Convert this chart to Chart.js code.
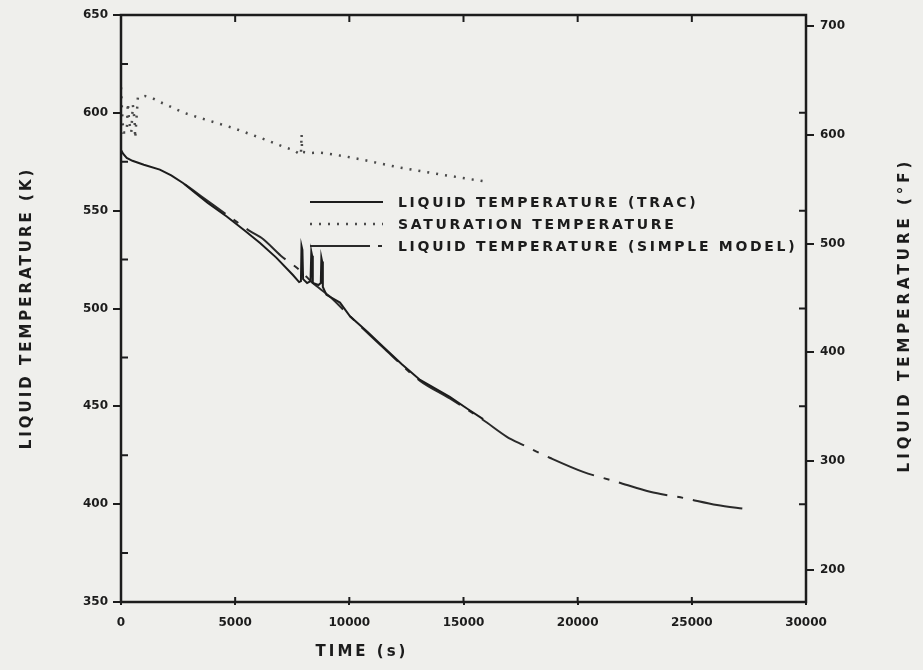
<!DOCTYPE html>
<html>
<head>
<meta charset="utf-8">
<script src="https://cdn.jsdelivr.net/npm/chart.js@4.4.0/dist/chart.umd.min.js"></script>
<style>
    html, body { margin: 0; padding: 0; background: #efefec; }
    #wrap { width: 923px; height: 670px; position: relative; }
</style>
</head>
<body>
<div id="wrap"><canvas id="chart"></canvas></div>
<script>
// Liquid temperature computed by TRAC (K)
const tracTime = [0, 100, 250, 500, 1000, 1700, 2200, 2730, 3200, 3800, 4630, 5400, 6090, 6800, 7540, 7800,
    7880, 7905, 7945, 7975, 8150, 8300, 8335, 8370, 8400, 8650, 8750, 8775, 8810, 8840, 9000, 9155, 9590,
    10030, 10800, 11480, 12300, 13100, 14400, 15200, 15860];
const tracTemp = [581, 579, 577, 575.5, 573.5, 571, 568, 564, 559.5, 554, 547, 540, 533.5, 526, 517, 513.5,
    514, 532, 530, 515, 513, 514, 529, 527, 513, 512, 513, 526, 524, 511, 507, 506, 503,
    496, 488, 480.5, 471.5, 463.5, 454.8, 448.5, 443.5];

// Saturation temperature (K)
const satTime = [0, 50, 100, 250, 300, 330, 360, 450, 520, 560, 600, 620, 740, 1050, 1360, 1710, 2010, 2370,
    2760, 3460, 4900, 6390, 7100, 7550, 7880, 7910, 7930, 8280, 8720, 9150, 9880, 10600, 11640, 12220,
    14000, 15900];
const satTemp = [613, 600, 590, 590, 605, 600, 595, 590, 604, 600, 595, 587, 608, 608.6, 607.6, 605.5, 604, 602,
    600, 597.4, 592.3, 586, 582.7, 581, 578.5, 589, 580, 579.5, 579.6, 579, 577.6, 576, 573.4, 572,
    568.5, 565];

// Liquid temperature from the simple model (K)
const simpleTime = [2800, 3500, 4630, 5100, 5650, 6220, 7000, 7840, 8400, 9155, 10030, 11480, 13100, 14400,
    15860, 16900, 17600, 18800, 20240, 21720, 23170, 24620, 26100, 27330];
const simpleTemp = [563.5, 557.5, 548, 544, 539.5, 535.5, 527, 519.5, 513, 506, 496, 480, 463, 454,
    443, 434.4, 430.3, 423.6, 416.5, 411.4, 406.3, 403.2, 399.6, 397.6];

// Axis ranges and tick labels
const timeTicks = [0, 5000, 10000, 15000, 20000, 25000, 30000];
const kelvinTicks = [350, 400, 450, 500, 550, 600, 650];
const fahrenheitTicks = [200, 300, 400, 500, 600, 700];

const legendLabels = ['LIQUID TEMPERATURE (TRAC)', 'SATURATION TEMPERATURE', 'LIQUID TEMPERATURE (SIMPLE MODEL)'];

const INK = '#1c1c1c';
const toF = k => (k - 273.15) * 9 / 5 + 32;
const pts = (xs, ys) => xs.map((x, i) => ({ x: x, y: ys[i] }));
const plain = v => String(v);

const tickFont = { family: 'DejaVu Sans', weight: 'bold', size: 12 };

// Frame, inward ticks, axis titles and the in-plot legend
const decorPlugin = {
    id: 'decor',
    beforeDraw(chart) {
        const ctx = chart.ctx;
        ctx.save();
        ctx.fillStyle = '#efefec';
        ctx.fillRect(0, 0, chart.width, chart.height);
        ctx.restore();
    },
    afterDraw(chart) {
        const ctx = chart.ctx;
        const a = chart.chartArea;
        const x = chart.scales.x, y = chart.scales.y;
        ctx.save();
        ctx.strokeStyle = INK;
        ctx.lineWidth = 2.5;
        ctx.strokeRect(a.left, a.top, a.right - a.left, a.bottom - a.top);

        // inward ticks
        ctx.lineWidth = 2;
        ctx.beginPath();
        timeTicks.slice(1, -1).forEach(v => {
            const px = x.getPixelForValue(v);
            ctx.moveTo(px, a.top); ctx.lineTo(px, a.top + 7);
            ctx.moveTo(px, a.bottom); ctx.lineTo(px, a.bottom - 5);
        });
        for (let v = 375; v < 650; v += 50) {
            const py = y.getPixelForValue(v);
            ctx.moveTo(a.left, py); ctx.lineTo(a.left + 7, py);
        }
        kelvinTicks.slice(1, -1).forEach(v => {
            const py = y.getPixelForValue(v);
            ctx.moveTo(a.right, py); ctx.lineTo(a.right - 7, py);
        });
        ctx.stroke();

        // axis titles
        ctx.fillStyle = INK;
        ctx.font = 'bold 15px "DejaVu Sans"';
        ctx.letterSpacing = '3px';
        ctx.textAlign = 'center';
        ctx.textBaseline = 'middle';

        ctx.save();
        ctx.translate(27, 308);
        ctx.rotate(-Math.PI / 2);
        ctx.fillText('LIQUID TEMPERATURE (K)', 0, 0);
        ctx.restore();

        ctx.save();
        ctx.translate(905, 315);
        ctx.rotate(-Math.PI / 2);
        ctx.letterSpacing = '4px';
        ctx.fillText('LIQUID TEMPERATURE (\u00b0F)', 0, 0);
        ctx.restore();

        ctx.fillText('TIME (s)', 362, 652);

        // legend
        const ds = chart.data.datasets;
        const rows = [202, 224, 246];
        ctx.textAlign = 'left';
        ctx.font = 'bold 14px "DejaVu Sans"';
        ctx.letterSpacing = '2.7px';
        legendLabels.forEach((label, i) => {
            ctx.save();
            ctx.strokeStyle = ds[i].borderColor;
            ctx.lineWidth = ds[i].borderWidth;
            ctx.setLineDash(i === 2 ? [60, 8, 4, 20] : (ds[i].borderDash || []));
            ctx.beginPath();
            ctx.moveTo(310, rows[i]);
            ctx.lineTo(i === 2 ? 382 : 383, rows[i]);
            ctx.stroke();
            ctx.restore();
            ctx.fillText(label, 398, rows[i] + 1);
        });
        ctx.restore();
    }
};

const chart = new Chart(document.getElementById('chart'), {
    type: 'line',
    data: {
        datasets: [{
            label: legendLabels[0],
            data: pts(tracTime, tracTemp),
            borderColor: INK,
            borderWidth: 2,
            pointRadius: 0,
            tension: 0
        }, {
            label: legendLabels[1],
            data: pts(satTime, satTemp),
            borderColor: '#4a4a4a',
            borderWidth: 2.5,
            borderDash: [2, 7],
            pointRadius: 0,
            tension: 0
        }, {
            label: legendLabels[2],
            data: pts(simpleTime, simpleTemp),
            borderColor: '#2a2a2a',
            borderWidth: 2,
            borderDash: [50, 10, 6, 10],
            pointRadius: 0,
            tension: 0.3
        }]
    },
    options: {
        responsive: true,
        maintainAspectRatio: false,
        animation: false,
        layout: { padding: { top: 15, left: 0, right: 0, bottom: 0 } },
        plugins: {
            legend: { display: false },
            tooltip: { enabled: false }
        },
        scales: {
            x: {
                type: 'linear',
                min: timeTicks[0],
                max: timeTicks[timeTicks.length - 1],
                afterBuildTicks: s => { s.ticks = timeTicks.map(v => ({ value: v })); },
                afterFit: s => { s.height = 68; },
                grid: { drawOnChartArea: false, drawTicks: true, tickLength: 3, color: INK, lineWidth: 2 },
                border: { display: false },
                ticks: { color: INK, font: tickFont, padding: 11, maxRotation: 0, callback: plain }
            },
            y: {
                type: 'linear',
                position: 'left',
                min: kelvinTicks[0],
                max: kelvinTicks[kelvinTicks.length - 1],
                afterBuildTicks: s => { s.ticks = kelvinTicks.map(v => ({ value: v })); },
                afterFit: s => { s.width = 121; },
                grid: { drawOnChartArea: false, drawTicks: true, tickLength: 8, color: INK, lineWidth: 2 },
                border: { display: false },
                ticks: { color: INK, font: tickFont, padding: 5, callback: plain }
            },
            y2: {
                type: 'linear',
                position: 'right',
                min: toF(kelvinTicks[0]),
                max: toF(kelvinTicks[kelvinTicks.length - 1]),
                afterBuildTicks: s => { s.ticks = fahrenheitTicks.map(v => ({ value: v })); },
                afterFit: s => { s.width = 117; },
                grid: { drawOnChartArea: false, drawTicks: true, tickLength: 8, color: INK, lineWidth: 2 },
                border: { display: false },
                ticks: { color: INK, font: tickFont, padding: 6, callback: plain }
            }
        }
    },
    plugins: [decorPlugin]
});
</script>
</body>
</html>
